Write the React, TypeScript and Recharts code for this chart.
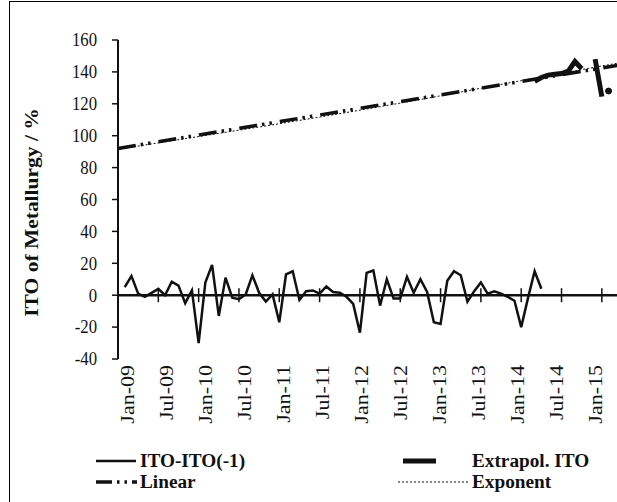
import React from "react";
import { LineChart, Line, XAxis, YAxis, ReferenceLine, Legend } from "recharts";

// month index 0 = Jan-09
const tickMonths = [0, 6, 12, 18, 24, 30, 36, 42, 48, 54, 60, 66, 72];
const xLabels = ["Jan-09", "Jul-09", "Jan-10", "Jul-10", "Jan-11", "Jul-11", "Jan-12", "Jul-12", "Jan-13", "Jul-13", "Jan-14", "Jul-14", "Jan-15"];
const yTicks = [-40, -20, 0, 20, 40, 60, 80, 100, 120, 140, 160];

// ITO-ITO(-1), Feb-09 .. Apr-14
const diffStart = 1;
const diffValues = [5, 12, 1, -1, 1.5, 4, 0, 8.5, 6, -5, 3, -30, 8, 19, -13, 11, -1.5, -2.5, 0.5, 12.5, 1.5, -4, 0.5, -17, 13, 15, -3, 2.5, 3, 1, 5.5, 2, 1.5, -1, -5.5, -23.5, 14, 15.5, -6.5, 10, -2, -2, 11.5, 1.5, 10, 2, -17, -18, 9, 15, 12.5, -4, 2.5, 8, 1, 2.5, 1, -1, -3.5, -20, -2, 15, 4];

// Extrapol. ITO, Mar-14 .. Jan-15, then a lone point
const extrapStart = 62;
const extrapValues = [134, 136.5, 138, 138.5, 139, 140.5, 146.5, 142, null, 148, 124.5];
const extrapDotMonth = 73;
const extrapDotValue = 128;

// trend lines
const linearMonths = [0, 75];
const linearValues = [92, 144.5];
const exponentMonths = [0, 12, 24, 36, 48, 60, 75];
const exponentValues = [91.5, 99.5, 107.5, 116, 125, 134.5, 146];

const data = Array.from({ length: 76 }, (_, m) => {
  const row: any = { m };
  const di = m - diffStart;
  if (di >= 0 && di < diffValues.length) row.diff = diffValues[di];
  const ei = m - extrapStart;
  if (ei >= 0 && ei < extrapValues.length) row.extrap = extrapValues[ei];
  if (m === extrapDotMonth) row.extrapDot = extrapDotValue;
  const li = linearMonths.indexOf(m);
  if (li >= 0) row.linear = linearValues[li];
  const xi = exponentMonths.indexOf(m);
  if (xi >= 0) row.exponent = exponentValues[xi];
  return row;
});

const INK = "#111";
const FONT = "Liberation Serif";

const YTick = (props: any) => {
  const { x, y, payload } = props;
  return (
    <text transform={`translate(${x},${y}) scale(0.88,1)`} textAnchor="end" dominantBaseline="central" fontFamily={FONT} fontSize={19} fill={INK}>
      {payload.value}
    </text>
  );
};

const XTick = (props: any) => {
  const { x, y, index } = props;
  const dx = 9.5 - 1.3 * index;
  return (
    <text transform={`translate(${x + dx},${y}) scale(0.85,1) rotate(-90)`} textAnchor="end" dominantBaseline="central" fontFamily={FONT} fontSize={22} fill={INK}>
      {xLabels[index]}
    </text>
  );
};

const renderTitle = (props: any) => {
  const vb = props.viewBox;
  const cx = vb.x + 32;
  const cy = vb.y + vb.height / 2 + 13;
  return (
    <text transform={`translate(${cx},${cy}) scale(0.85,1) rotate(-90)`} textAnchor="middle" dominantBaseline="central" fontFamily={FONT} fontWeight="bold" fontSize={21.5} fill={INK}>
      ITO of Metallurgy / %
    </text>
  );
};

const LegendText = ({ x, y, children }: any) => (
  <text transform={`translate(${x},${y}) scale(1.07,1)`} dominantBaseline="central" fontFamily={FONT} fontWeight="bold" fontSize={18} fill={INK}>
    {children}
  </text>
);

const renderLegend = () => (
  <svg width={617} height={62}>
    <line x1={96} x2={136} y1={21} y2={21} stroke={INK} strokeWidth={2.5} />
    <LegendText x={140} y={21}>ITO-ITO(-1)</LegendText>
    <line x1={403} x2={436} y1={21} y2={21} stroke={INK} strokeWidth={5} />
    <LegendText x={472} y={21}>Extrapol. ITO</LegendText>
    <line x1={96} x2={137} y1={42} y2={42} stroke={INK} strokeWidth={3.5} strokeDasharray="16 5 2.5 5 2.5 5" />
    <LegendText x={140} y={42}>Linear</LegendText>
    <line x1={398} x2={469} y1={42} y2={42} stroke={INK} strokeWidth={1} strokeDasharray="2 2" />
    <LegendText x={472} y={42}>Exponent</LegendText>
  </svg>
);

export default function App() {
  return (
    <div style={{ position: "absolute", left: 0, top: 0, width: 617, height: 502, overflow: "hidden", background: "#fff" }}>
      <div style={{ position: "absolute", left: 9, top: 1, width: 700, height: 700, border: "1px solid #000" }} />
      <LineChart width={622} height={502} data={data} margin={{ top: 40, right: 0, bottom: 0, left: 0 }}>
        <XAxis dataKey="m" type="number" domain={[0, 75]} ticks={tickMonths} interval={0} height={143} axisLine={false} tickLine={false} tickSize={0} tickMargin={6} tick={<XTick />} />
        <YAxis type="number" domain={[-40, 160]} ticks={yTicks} interval={0} width={118} tickSize={6} tickMargin={15} tick={<YTick />} axisLine={{ stroke: INK, strokeWidth: 2 }} tickLine={{ stroke: INK, strokeWidth: 1.5 }} label={{ content: renderTitle }} />
        <ReferenceLine y={0} stroke={INK} strokeWidth={2.5} />
        {tickMonths.slice(1).map((t) => (
          <ReferenceLine key={t} segment={[{ x: t, y: -4.4 }, { x: t, y: 4.4 }]} stroke={INK} strokeWidth={1.5} />
        ))}
        <Line dataKey="exponent" type="monotone" connectNulls stroke={INK} strokeWidth={1} strokeDasharray="2 2" dot={false} activeDot={false} isAnimationActive={false} />
        <Line dataKey="linear" type="linear" connectNulls stroke={INK} strokeWidth={3.5} strokeDasharray="18 5 2.5 5 2.5 8" dot={false} activeDot={false} isAnimationActive={false} />
        <Line dataKey="diff" type="linear" stroke={INK} strokeWidth={2.5} dot={false} activeDot={false} isAnimationActive={false} />
        <Line dataKey="extrap" type="linear" stroke={INK} strokeWidth={5} dot={false} activeDot={false} isAnimationActive={false} />
        <Line dataKey="extrapDot" stroke="none" dot={{ r: 3, fill: INK, stroke: INK }} activeDot={false} isAnimationActive={false} legendType="none" />
        <Legend verticalAlign="middle" layout="horizontal" wrapperStyle={{ left: 0, top: 440, width: 617, height: 62 }} content={renderLegend} />
      </LineChart>
    </div>
  );
}
